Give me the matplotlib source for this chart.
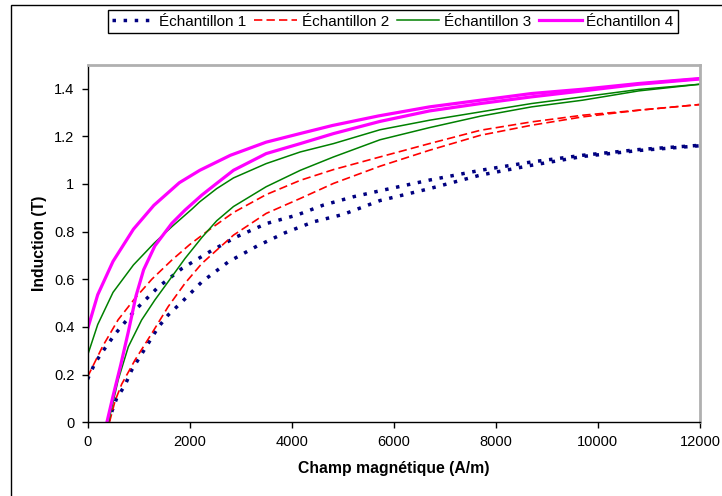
import matplotlib
matplotlib.use("Agg")
import matplotlib.pyplot as plt
from matplotlib.patches import Rectangle
from matplotlib.ticker import FormatStrFormatter

plt.rcParams['font.family'] = ['Liberation Sans', 'DejaVu Sans']

# Échantillon 1 (branche haute / branche basse)
h1_haut = [0, 150, 340, 540, 930, 1390, 1850, 2430, 2920, 3510, 4100, 4620, 5210, 5730, 6700, 7700, 8700, 9700, 10800, 12000]
b1_haut = [0.18, 0.25, 0.31, 0.37, 0.47, 0.568, 0.645, 0.72, 0.778, 0.834, 0.869, 0.911, 0.946, 0.971, 1.016, 1.057, 1.092, 1.12, 1.144, 1.162]
h1_bas = [400, 570, 735, 866, 1190, 1390, 1580, 1850, 2240, 2760, 3320, 3870, 4430, 5010, 5730, 6700, 7700, 8700, 9700, 10800, 12000]
b1_bas = [0.0, 0.1, 0.156, 0.219, 0.331, 0.4, 0.45, 0.505, 0.589, 0.673, 0.739, 0.795, 0.841, 0.872, 0.93, 0.98, 1.037, 1.078, 1.115, 1.14, 1.16]

# Échantillon 2
h2_haut = [0, 300, 600, 930, 1260, 1650, 2000, 2400, 2860, 3500, 4170, 4820, 5730, 6700, 7700, 8700, 9700, 10800, 12000]
b2_haut = [0.19, 0.32, 0.43, 0.52, 0.60, 0.68, 0.745, 0.81, 0.88, 0.955, 1.015, 1.06, 1.113, 1.169, 1.225, 1.26, 1.288, 1.309, 1.333]
h2_bas = [430, 540, 670, 930, 1260, 1580, 1910, 2240, 2530, 2860, 3500, 4170, 4820, 5730, 6700, 7700, 8700, 9700, 10800, 12000]
b2_bas = [0.0, 0.09, 0.16, 0.261, 0.373, 0.485, 0.583, 0.666, 0.722, 0.785, 0.876, 0.939, 1.002, 1.074, 1.141, 1.204, 1.246, 1.281, 1.309, 1.333]

# Échantillon 3
h3_haut = [0, 200, 500, 900, 1300, 1650, 2050, 2200, 2530, 2860, 3500, 4170, 4820, 5730, 6700, 7700, 8700, 9700, 10800, 12000]
b3_haut = [0.28, 0.41, 0.545, 0.66, 0.75, 0.82, 0.895, 0.925, 0.98, 1.025, 1.085, 1.134, 1.169, 1.227, 1.267, 1.302, 1.337, 1.365, 1.396, 1.418]
h3_bas = [410, 600, 800, 1060, 1320, 1650, 1910, 2240, 2530, 2860, 3500, 4170, 4820, 5730, 6700, 7700, 8700, 9700, 10800, 12000]
b3_bas = [0.0, 0.177, 0.317, 0.429, 0.513, 0.61, 0.687, 0.775, 0.845, 0.905, 0.988, 1.057, 1.113, 1.185, 1.236, 1.284, 1.323, 1.351, 1.39, 1.418]

# Échantillon 4
h4_haut = [0, 200, 500, 900, 1300, 1800, 2200, 2800, 3500, 4200, 4800, 5700, 6700, 7700, 8700, 9700, 10800, 12000]
b4_haut = [0.39, 0.535, 0.675, 0.81, 0.91, 1.005, 1.057, 1.12, 1.175, 1.213, 1.245, 1.285, 1.323, 1.351, 1.379, 1.397, 1.421, 1.442]
h4_bas = [380, 500, 650, 800, 950, 1100, 1320, 1650, 1910, 2240, 2530, 2860, 3500, 4170, 4820, 5730, 6700, 7700, 8700, 9700, 10800, 12000]
b4_bas = [0.0, 0.11, 0.24, 0.38, 0.53, 0.64, 0.74, 0.834, 0.89, 0.953, 1.002, 1.057, 1.127, 1.169, 1.211, 1.262, 1.306, 1.337, 1.365, 1.39, 1.418, 1.44]

noms = ['Échantillon 1', 'Échantillon 2', 'Échantillon 3', 'Échantillon 4']

fig = plt.figure(figsize=(7.22, 4.96), dpi=100)
ax = fig.add_axes([0.1212, 0.1486, 0.8483, 0.721])

styles = [
    dict(color='#000080', lw=2.5, linestyle=(0, (1, 2.2)), dash_capstyle='butt'),
    dict(color='#ff0000', lw=1.2, linestyle=(0, (5, 2.5))),
    dict(color='#008000', lw=1.1, linestyle='-'),
    dict(color='#ff00ff', lw=2.3, linestyle='-'),
]
courbes = [
    (h1_haut, b1_haut, h1_bas, b1_bas),
    (h2_haut, b2_haut, h2_bas, b2_bas),
    (h3_haut, b3_haut, h3_bas, b3_bas),
    (h4_haut, b4_haut, h4_bas, b4_bas),
]

for nom, st, (hh, bh, hb, bb) in zip(noms, styles, courbes):
    ax.plot(hh, bh, label=nom, **st)
    ax.plot(hb, bb, **st)

ax.set_xlim(0, 12000)
ax.set_ylim(0, 1.5)
ax.set_xticks(range(0, 12001, 2000))
ax.set_yticks([0, 0.2, 0.4, 0.6, 0.8, 1.0, 1.2, 1.4])
ax.yaxis.set_major_formatter(FormatStrFormatter('%g'))
ax.tick_params(direction='out', length=4.5, width=1, labelsize=10.5, pad=5)

for s in ['top', 'right']:
    ax.spines[s].set_color('#b0b0b0')
    ax.spines[s].set_linewidth(2)
for s in ['left', 'bottom']:
    ax.spines[s].set_color('black')
    ax.spines[s].set_linewidth(1)

ax.set_xlabel('Champ magnétique (A/m)', fontsize=11.3, fontweight='bold', labelpad=8)
ax.set_ylabel('Induction (T)', fontsize=11.3, fontweight='bold', labelpad=5)

leg = fig.legend(loc='center', bbox_to_anchor=(0.544, 0.956), ncol=4, fontsize=11,
                 frameon=True, fancybox=False, edgecolor='black', framealpha=1,
                 handlelength=2.8, handletextpad=0.3, columnspacing=0.5,
                 borderpad=0.3, borderaxespad=0)
leg.get_frame().set_linewidth(1)

# cadre extérieur du graphique
fig.add_artist(Rectangle((11 / 722, -0.1), 1.2, 1.1 - 5 / 496, transform=fig.transFigure,
                         fill=False, edgecolor='black', lw=1))

fig.savefig('out.png', dpi=100)
